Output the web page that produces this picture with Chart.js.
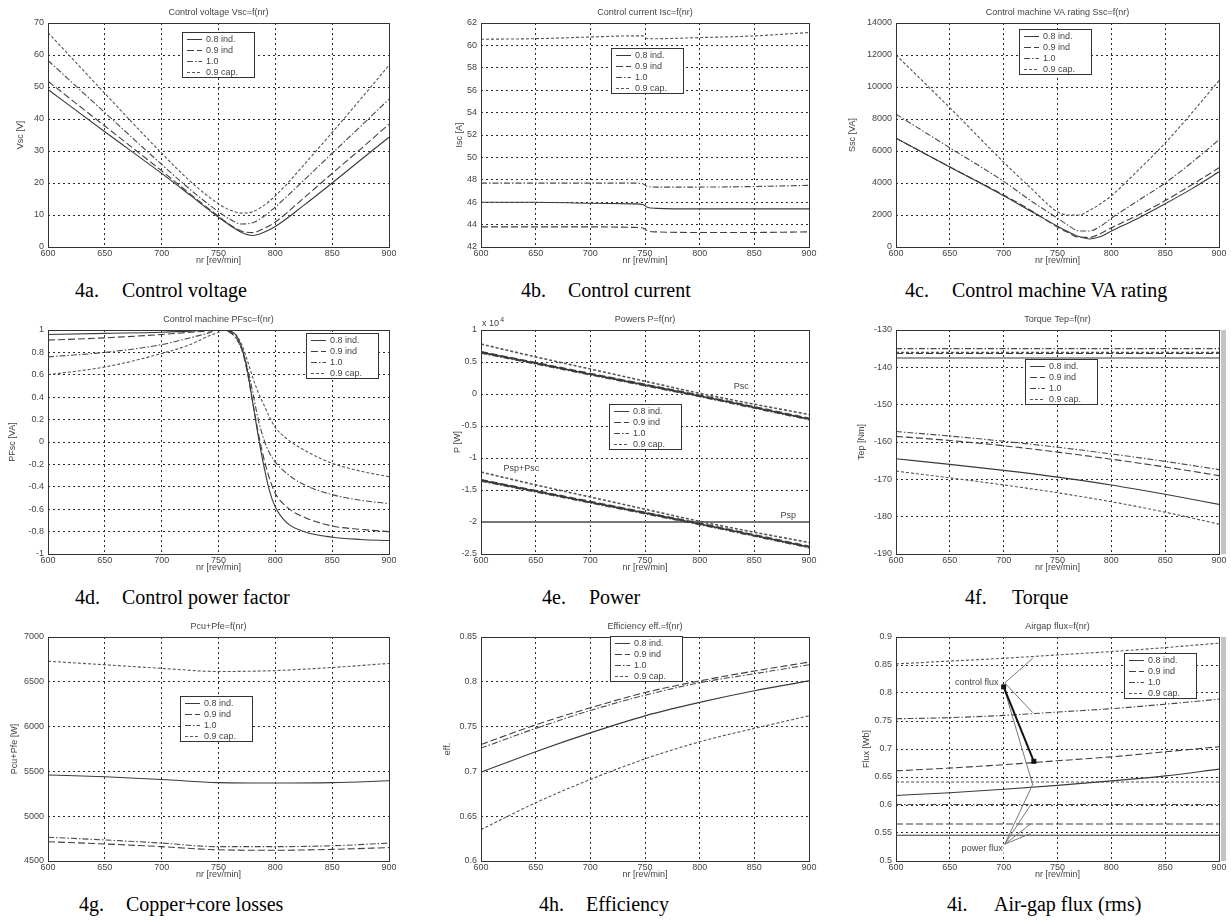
<!DOCTYPE html>
<html>
<head>
<meta charset="utf-8">
<script src="https://cdn.jsdelivr.net/npm/chart.js@4.4.1/dist/chart.umd.min.js"></script>
<style>
  body { margin: 0; background: #fff; width: 1231px; height: 922px; position: relative; overflow: hidden; }
  .cap { position: absolute; font: 20px "Liberation Serif", "Times New Roman", serif; color: #000; white-space: nowrap; line-height: 22px; }
  .cap span { display: inline-block; width: 47px; }
  .scan { position: absolute; left: 1221px; width: 5px; height: 224px; background: #c4c4c4; }
</style>
</head>
<body>
<div class="cap" style="left:75px;top:279px"><span>4a.</span>Control voltage</div>
<div class="cap" style="left:521px;top:279px"><span>4b.</span>Control current</div>
<div class="cap" style="left:905px;top:279px"><span>4c.</span>Control machine VA rating</div>
<div class="cap" style="left:75px;top:586px"><span>4d.</span>Control power factor</div>
<div class="cap" style="left:542px;top:586px"><span>4e.</span>Power</div>
<div class="cap" style="left:965px;top:586px"><span>4f.</span>Torque</div>
<div class="cap" style="left:79px;top:893px"><span>4g.</span>Copper+core losses</div>
<div class="cap" style="left:539px;top:893px"><span>4h.</span>Efficiency</div>
<div class="cap" style="left:947px;top:893px"><span>4i.</span>Air-gap flux (rms)</div>
<div class="scan" style="top:330px"></div>
<div class="scan" style="top:637px"></div>
<script>
const seriesLabels = ['0.8 ind.', '0.9 ind', '1.0', '0.9 cap.'];

// rotor speed nr [rev/min]
const nrA = [600, 650, 700, 725, 750, 760, 770, 780, 790, 800, 825, 850, 875, 900];
const nrB = [600, 650, 700, 740, 748, 752, 760, 800, 850, 900];
const nrD = [600, 650, 700, 725, 740, 750, 755, 760, 765, 770, 775, 780, 785, 790, 795, 800, 810, 825, 850, 875, 900];
const nrE = [600, 650, 700, 750, 800, 850, 900];

// 4a control voltage [V]
const vsc08 = [49.2, 36.0, 23.0, 16.2, 9.3, 6.8, 4.6, 3.6, 4.6, 6.4, 13.0, 20.0, 27.2, 34.3];
const vsc09 = [51.8, 37.8, 23.8, 16.6, 9.6, 7.0, 5.0, 4.5, 5.8, 7.8, 15.3, 23.0, 30.6, 38.4];
const vsc10 = [58.3, 42.0, 25.8, 18.0, 11.0, 8.7, 7.2, 7.6, 9.6, 12.5, 20.8, 29.3, 37.7, 46.2];
const vsc09c = [67.0, 48.0, 29.3, 20.6, 13.5, 11.6, 10.6, 11.0, 13.0, 16.0, 25.6, 35.8, 46.2, 56.8];

// 4b control current [A]
const isc08 = [46.0, 46.0, 45.9, 45.85, 45.8, 45.55, 45.45, 45.4, 45.4, 45.4];
const isc09 = [43.8, 43.8, 43.8, 43.75, 43.7, 43.45, 43.35, 43.3, 43.3, 43.35];
const isc10 = [47.7, 47.7, 47.7, 47.7, 47.65, 47.4, 47.35, 47.35, 47.4, 47.5];
const isc09c = [60.55, 60.6, 60.75, 60.85, 60.85, 60.6, 60.6, 60.7, 60.85, 61.15];

// 4c control machine VA rating [VA]
const ssc08 = [6800, 5000, 3200, 2250, 1300, 950, 650, 500, 650, 1000, 1800, 2700, 3650, 4700];
const ssc09 = [6800, 5000, 3250, 2300, 1250, 900, 600, 600, 850, 1200, 2000, 2900, 3900, 4950];
const ssc10 = [8300, 6200, 4100, 2900, 1800, 1350, 1000, 1000, 1300, 1800, 2900, 4000, 5300, 6700];
const ssc09c = [12000, 8700, 5300, 3700, 2200, 2000, 2000, 2300, 2700, 3200, 4800, 6500, 8400, 10400];

// 4d control power factor
const pf08 = [0.96, 0.97, 0.98, 0.99, 1.0, 1.0, 1.0, 0.99, 0.96, 0.86, 0.66, 0.36, 0.05, -0.22, -0.44, -0.58, -0.72, -0.80, -0.85, -0.87, -0.88];
const pf09 = [0.91, 0.93, 0.96, 0.98, 0.99, 1.0, 1.0, 0.98, 0.94, 0.84, 0.64, 0.36, 0.08, -0.15, -0.33, -0.46, -0.58, -0.67, -0.75, -0.78, -0.80];
const pf10 = [0.76, 0.80, 0.87, 0.93, 0.97, 1.0, 1.0, 0.98, 0.93, 0.84, 0.68, 0.45, 0.20, 0.02, -0.10, -0.18, -0.28, -0.38, -0.47, -0.52, -0.55];
const pf09c = [0.60, 0.67, 0.79, 0.87, 0.94, 0.98, 1.0, 0.99, 0.96, 0.88, 0.74, 0.58, 0.44, 0.33, 0.22, 0.13, 0.03, -0.07, -0.19, -0.26, -0.31];

// 4e powers [x 10^4 W]
const psc08 = [0.65, 0.48, 0.31, 0.14, -0.03, -0.21, -0.39];
const psc09 = [0.66, 0.49, 0.32, 0.15, -0.02, -0.20, -0.38];
const psc10 = [0.64, 0.47, 0.30, 0.13, -0.04, -0.22, -0.40];
const psc09c = [0.78, 0.58, 0.39, 0.20, 0.01, -0.16, -0.32];
const ptot08 = [-1.35, -1.52, -1.69, -1.86, -2.03, -2.21, -2.39];
const ptot09 = [-1.34, -1.51, -1.68, -1.85, -2.02, -2.20, -2.38];
const ptot10 = [-1.36, -1.53, -1.70, -1.87, -2.04, -2.22, -2.40];
const ptot09c = [-1.22, -1.42, -1.61, -1.80, -1.99, -2.16, -2.32];
const psp = [-2.0, -2.0, -2.0, -2.0, -2.0, -2.0, -2.0];

// 4f torque [Nm]
const tep08 = [-164.5, -166.0, -167.6, -169.4, -171.5, -174.0, -176.7];
const tep09 = [-158.5, -159.6, -161.0, -162.7, -164.6, -166.7, -169.0];
const tep10 = [-157.2, -158.4, -159.8, -161.4, -163.2, -165.2, -167.4];
const tep09c = [-167.8, -169.6, -171.5, -173.6, -176.0, -178.8, -182.0];
const tepP08 = [-137.5, -137.5, -137.5, -137.5, -137.5, -137.5, -137.5];
const tepP09 = [-136.3, -136.3, -136.3, -136.3, -136.3, -136.3, -136.3];
const tepP10 = [-135.0, -135.0, -135.0, -135.0, -135.0, -135.0, -135.0];
const tepP09c = [-136.0, -136.0, -136.0, -136.0, -136.0, -136.0, -136.0];

// 4g copper + core losses [W]
const loss08 = [5460, 5440, 5410, 5375, 5370, 5375, 5395];
const loss09 = [4715, 4690, 4660, 4625, 4620, 4630, 4650];
const loss10 = [4765, 4735, 4700, 4660, 4660, 4670, 4700];
const loss09c = [6730, 6690, 6650, 6615, 6625, 6660, 6705];

// 4h efficiency
const eff08 = [0.699, 0.722, 0.743, 0.762, 0.777, 0.790, 0.801];
const eff09 = [0.730, 0.752, 0.771, 0.788, 0.801, 0.812, 0.822];
const eff10 = [0.726, 0.748, 0.768, 0.785, 0.799, 0.809, 0.819];
const eff09c = [0.635, 0.665, 0.691, 0.714, 0.733, 0.748, 0.762];

// 4i airgap flux [Wb]: control machine and power machine
const fluxC08 = [0.617, 0.622, 0.628, 0.635, 0.643, 0.652, 0.664];
const fluxC09 = [0.661, 0.666, 0.672, 0.679, 0.686, 0.695, 0.704];
const fluxC10 = [0.754, 0.756, 0.760, 0.766, 0.772, 0.780, 0.789];
const fluxC09c = [0.852, 0.857, 0.862, 0.868, 0.874, 0.881, 0.889];
const fluxP08 = [0.546, 0.546, 0.546, 0.546, 0.546, 0.546, 0.546];
const fluxP09 = [0.566, 0.566, 0.566, 0.566, 0.566, 0.566, 0.566];
const fluxP10 = [0.601, 0.601, 0.601, 0.601, 0.601, 0.601, 0.601];
const fluxP09c = [0.641, 0.641, 0.641, 0.641, 0.641, 0.641, 0.641];

// annotation anchors in data units [nr, value]
const powerNotes = [['Psc', 838, 0.12], ['Psp+Psc', 637, -1.16], ['Psp', 881, -1.9]];
const fluxNotes = [['control flux', 675, 0.818], ['power flux', 680, 0.522]];
const fluxLeads = [
  [701, 0.818, 727, 0.862], [701, 0.818, 727, 0.765], [700, 0.811, 727, 0.636],
  [701, 0.530, 727, 0.637], [701, 0.530, 725, 0.600], [701, 0.530, 725, 0.566], [701, 0.530, 725, 0.549]
];
const fluxPointer = [700, 0.811, 728, 0.678];

const lineStyles = [
  { color: '#3a3a3a', dash: [] },
  { color: '#3f3f3f', dash: [7, 3] },
  { color: '#4a4a4a', dash: [6, 2, 1.5, 2] },
  { color: '#555', dash: [3, 2] }
];

const colLeft = [48, 481, 896];
const colWidth = [341, 328, 323];
const rowTop = [23, 330, 637];
const plotH = 224;
const AXW = 50, TOPPAD = 20, RIGHTPAD = 12, AXH = 19;
const FONT = '"Liberation Sans", Arial, sans-serif';
const INK = '#444';

function pts(xs, ys) {
  return xs.map((x, i) => ({ x: x, y: ys[i] }));
}

function lineSet(label, xs, ys, k, extra) {
  return Object.assign({
    label: label,
    data: pts(xs, ys),
    borderColor: lineStyles[k].color,
    borderDash: lineStyles[k].dash,
    borderWidth: 1.1,
    pointRadius: 0,
    fill: false,
    cubicInterpolationMode: 'monotone',
    inLegend: true
  }, extra || {});
}

const panels = [
  { col: 0, row: 0, title: 'Control voltage Vsc=f(nr)', yTitle: 'Vsc [V]', gap: 27, y: [0, 70, 10],
    x: nrA, series: [vsc08, vsc09, vsc10, vsc09c], legend: [134, 9] },
  { col: 1, row: 0, title: 'Control current Isc=f(nr)', yTitle: 'Isc [A]', gap: 21, y: [42, 62, 2],
    x: nrB, series: [isc08, isc09, isc10, isc09c], legend: [130, 25] },
  { col: 2, row: 0, title: 'Control machine VA rating Ssc=f(nr)', yTitle: 'Ssc [VA]', gap: 43, y: [0, 14000, 2000],
    x: nrA, series: [ssc08, ssc09, ssc10, ssc09c], legend: [123, 6] },
  { col: 0, row: 1, title: 'Control machine PFsc=f(nr)', yTitle: 'PFsc [VA]', gap: 35, y: [-1, 1, 0.2],
    x: nrD, series: [pf08, pf09, pf10, pf09c], legend: [258, 3] },
  { col: 1, row: 1, title: 'Powers P=f(nr)', yTitle: 'P [W]', gap: 23, y: [-2.5, 1, 0.5],
    x: nrE, series: [psc08, psc09, psc10, psc09c], legend: [128, 74], width: 1.6,
    more: [ptot08, ptot09, ptot10, ptot09c], notes: powerNotes, exponent: true },
  { col: 2, row: 1, title: 'Torque Tep=f(nr)', yTitle: 'Tep [Nm]', gap: 34, y: [-190, -130, 10],
    x: nrE, series: [tep08, tep09, tep10, tep09c], legend: [129, 29],
    more: [tepP08, tepP09, tepP10, tepP09c] },
  { col: 0, row: 2, title: 'Pcu+Pfe=f(nr)', yTitle: 'Pcu+Pfe [W]', gap: 33, y: [4500, 7000, 500],
    x: nrE, series: [loss08, loss09, loss10, loss09c], legend: [132, 59] },
  { col: 1, row: 2, title: 'Efficiency eff.=f(nr)', yTitle: 'eff.', gap: 33, y: [0.6, 0.85, 0.05],
    x: nrE, series: [eff08, eff09, eff10, eff09c], legend: [129, -1] },
  { col: 2, row: 2, title: 'Airgap flux=f(nr)', yTitle: 'Flux [Wb]', gap: 29, y: [0.5, 0.9, 0.05],
    x: nrE, series: [fluxC08, fluxC09, fluxC10, fluxC09c], legend: [228, 16],
    more: [fluxP08, fluxP09, fluxP10, fluxP09c], notes: fluxNotes, leads: fluxLeads, pointer: fluxPointer }
];

function decor(p) {
  return {
    id: 'decor',
    afterDraw(chart) {
      const ctx = chart.ctx, a = chart.chartArea;
      const sx = chart.scales.x, sy = chart.scales.y;
      const px = v => sx.getPixelForValue(v), py = v => sy.getPixelForValue(v);
      ctx.save();
      ctx.setLineDash([]);
      ctx.strokeStyle = '#333';
      ctx.lineWidth = 1;
      ctx.strokeRect(Math.round(a.left) + 0.5, Math.round(a.top) + 0.5, Math.round(a.width), Math.round(a.height));

      ctx.font = '9px ' + FONT;
      ctx.fillStyle = INK;
      ctx.textAlign = 'center';
      ctx.textBaseline = 'middle';
      ctx.fillText(p.title, (a.left + a.right) / 2, a.top - 10);

      if (p.exponent) {
        ctx.textAlign = 'left';
        ctx.fillText('x 10', a.left + 1, a.top - 6);
        ctx.font = '7px ' + FONT;
        ctx.fillText('4', a.left + 1 + ctx.measureText('x 10').width + 5, a.top - 10);
        ctx.font = '9px ' + FONT;
        ctx.textAlign = 'center';
      }

      (p.leads || []).forEach(l => {
        ctx.strokeStyle = '#777';
        ctx.lineWidth = 1;
        ctx.beginPath();
        ctx.moveTo(px(l[0]), py(l[1]));
        ctx.lineTo(px(l[2]), py(l[3]));
        ctx.stroke();
      });
      if (p.pointer) {
        const q = p.pointer;
        ctx.strokeStyle = '#111';
        ctx.lineWidth = 2;
        ctx.beginPath();
        ctx.moveTo(px(q[0]), py(q[1]));
        ctx.lineTo(px(q[2]), py(q[3]));
        ctx.stroke();
        ctx.fillStyle = '#111';
        ctx.fillRect(px(q[0]) - 2.5, py(q[1]) - 2.5, 5, 5);
        ctx.fillRect(px(q[2]) - 2.5, py(q[3]) - 2.5, 5, 5);
        ctx.fillStyle = INK;
      }
      (p.notes || []).forEach(n => {
        ctx.fillStyle = '#fff';
        const w = ctx.measureText(n[0]).width;
        ctx.fillRect(px(n[1]) - w / 2 - 1, py(n[2]) - 5, w + 2, 10);
        ctx.fillStyle = INK;
        ctx.fillText(n[0], px(n[1]), py(n[2]));
      });

      const lx = Math.round(a.left + p.legend[0]), ly = Math.round(a.top + p.legend[1]);
      ctx.fillStyle = '#fff';
      ctx.fillRect(lx, ly, 72, 45);
      ctx.strokeStyle = '#333';
      ctx.lineWidth = 1;
      ctx.strokeRect(lx + 0.5, ly + 0.5, 72, 45);
      chart.data.datasets.filter(d => d.inLegend).forEach((d, i) => {
        const cy = ly + 7.5 + i * 11;
        ctx.strokeStyle = d.borderColor;
        ctx.lineWidth = 1;
        ctx.setLineDash(d.borderDash);
        ctx.beginPath();
        ctx.moveTo(lx + 5, cy);
        ctx.lineTo(lx + 20, cy);
        ctx.stroke();
        ctx.setLineDash([]);
        ctx.fillStyle = INK;
        ctx.textAlign = 'left';
        ctx.fillText(d.label, lx + 24, cy);
      });
      ctx.restore();
    }
  };
}

const tickFont = { family: FONT, size: 9 };
const fmt = v => String(+Number(v).toFixed(4));

panels.forEach(p => {
  const left = colLeft[p.col] - AXW, top = rowTop[p.row] - TOPPAD;
  const w = AXW + colWidth[p.col] + RIGHTPAD, h = TOPPAD + plotH + AXH;
  const cv = document.createElement('canvas');
  cv.width = w;
  cv.height = h;
  cv.style.cssText = 'position:absolute;left:' + left + 'px;top:' + top + 'px;width:' + w + 'px;height:' + h + 'px';
  document.body.appendChild(cv);

  const lw = { borderWidth: p.width || 1.1 };
  const datasets = p.series.map((ys, k) => lineSet(seriesLabels[k], p.x, ys, k, lw));
  (p.more || []).forEach((ys, k) => {
    datasets.push(lineSet(seriesLabels[k], p.x, ys, k, Object.assign({ inLegend: false }, lw)));
  });
  if (p.exponent) {
    datasets.push(lineSet('Psp', p.x, psp, 0, { inLegend: false, borderWidth: 2, borderColor: '#777' }));
  }

  new Chart(cv, {
    type: 'line',
    data: { datasets: datasets },
    options: {
      responsive: false,
      animation: false,
      devicePixelRatio: 1,
      events: [],
      layout: { padding: { top: TOPPAD, right: RIGHTPAD, left: 0, bottom: 0 } },
      plugins: { legend: { display: false }, title: { display: false }, tooltip: { enabled: false } },
      scales: {
        x: {
          type: 'linear', min: 600, max: 900,
          ticks: { stepSize: 50, color: INK, font: tickFont, padding: 1, maxRotation: 0, callback: fmt },
          grid: { color: '#2a2a2a', drawTicks: false },
          border: { display: false, dash: [2, 3] },
          title: { display: true, text: 'nr [rev/min]', color: INK, font: tickFont, padding: 0 },
          afterFit: s => { s.height = AXH; }
        },
        y: {
          type: 'linear', min: p.y[0], max: p.y[1],
          ticks: { stepSize: p.y[2], color: INK, font: tickFont, padding: 4, callback: fmt },
          grid: { color: '#2a2a2a', drawTicks: false },
          border: { display: false, dash: [2, 3] },
          title: { display: true, text: p.yTitle, color: INK, font: tickFont,
                   padding: { top: Math.max(0, AXW - 5.4 - p.gap), bottom: 0 } },
          afterFit: s => { s.width = AXW; }
        }
      }
    },
    plugins: [decor(p)]
  });
});
</script>
</body>
</html>
